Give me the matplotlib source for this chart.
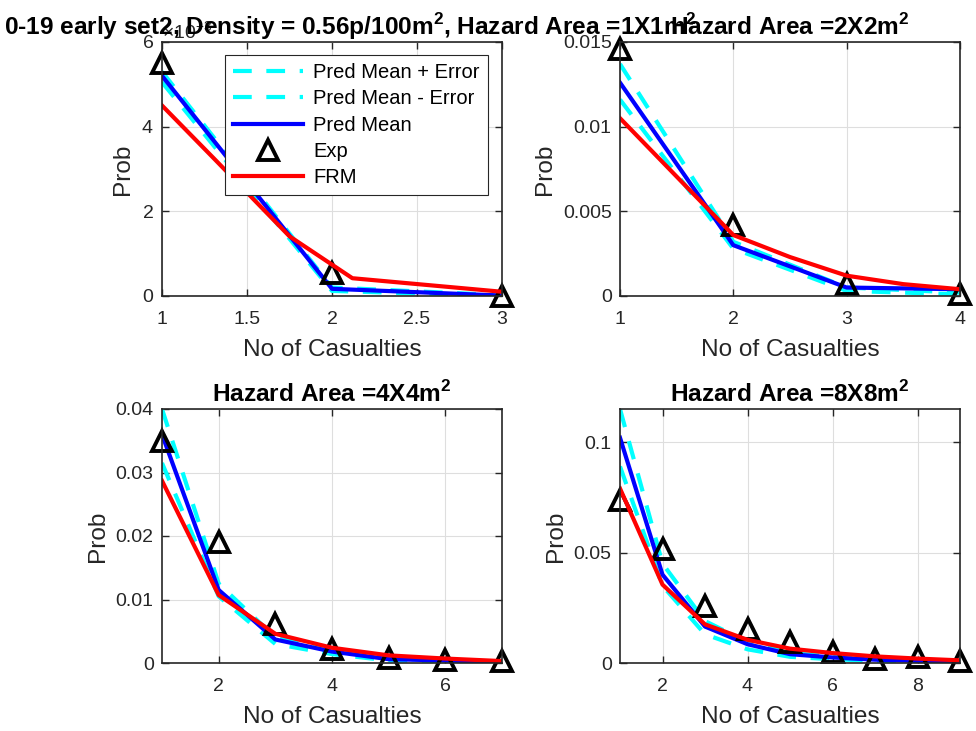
import numpy as np
import matplotlib
matplotlib.use('Agg')
import matplotlib.pyplot as plt
from matplotlib.ticker import FuncFormatter

plt.rcParams['font.family'] = ['Liberation Sans', 'DejaVu Sans']
plt.rcParams['mathtext.fontset'] = 'custom'
plt.rcParams['mathtext.rm'] = 'Liberation Sans'
plt.rcParams['mathtext.bf'] = 'Liberation Sans:bold'

# panel 1: hazard area 1x1
x1 = [1, 2, 3]
plus1 = [5.30e-3, 0.20e-3, 0.02e-3]
minus1 = [5.05e-3, 0.12e-3, 0.0]
mean1 = [5.20e-3, 0.17e-3, 0.01e-3]
exp1 = [5.50e-3, 0.54e-3, 0.0]
frm_x1 = [1, 1.31, 1.75, 2.12, 3]
frm1 = [4.50e-3, 3.23e-3, 1.41e-3, 0.42e-3, 0.10e-3]

# panel 2: hazard area 2x2
x2 = [1, 2, 3, 4]
plus2 = [0.0137, 0.0032, 0.0005, 0.0002]
minus2 = [0.0116, 0.0028, 0.0003, 0.0001]
mean2 = [0.0126, 0.0030, 0.0005, 0.0004]
exp2 = [0.0146, 0.0042, 0.0007, 0.0001]
frm_x2 = [1, 2, 2.5, 3, 3.5, 4]
frm2 = [0.0105, 0.0036, 0.0023, 0.0012, 0.0007, 0.0004]

# panel 3: hazard area 4x4
x3 = [1, 2, 3, 4, 5, 6, 7]
plus3 = [0.0400, 0.0125, 0.0040, 0.0020, 0.0007, 0.0004, 0.0002]
minus3 = [0.0315, 0.0105, 0.0030, 0.0014, 0.0004, 0.0003, 0.0001]
mean3 = [0.0360, 0.0115, 0.0037, 0.0018, 0.0006, 0.0004, 0.0002]
exp3 = [0.0350, 0.0191, 0.0062, 0.0022, 0.0008, 0.0005, 0.0003]
frm3 = [0.0287, 0.0107, 0.0046, 0.0024, 0.0012, 0.0007, 0.0003]

# panel 4: hazard area 8x8
x4 = [1, 2, 3, 4, 5, 6, 7, 8, 9]
plus4 = [0.1150, 0.0450, 0.0190, 0.0095, 0.0045, 0.0030, 0.0020, 0.0012, 0.0006]
minus4 = [0.0890, 0.0350, 0.0130, 0.0062, 0.0028, 0.0017, 0.0010, 0.0007, 0.0003]
mean4 = [0.1020, 0.0400, 0.0165, 0.0085, 0.0040, 0.0025, 0.0015, 0.0010, 0.0005]
exp4 = [0.0737, 0.0516, 0.0260, 0.0153, 0.0093, 0.0048, 0.0020, 0.0025, 0.0010]
frm4 = [0.0790, 0.0355, 0.0175, 0.0105, 0.0065, 0.0045, 0.0030, 0.0020, 0.0012]

titles = [r'0-19 early set2, Density = 0.56p/100m$^\mathbf{2}$, Hazard Area =1X1m$^\mathbf{2}$',
          r'Hazard Area =2X2m$^\mathbf{2}$',
          r'Hazard Area =4X4m$^\mathbf{2}$',
          r'Hazard Area =8X8m$^\mathbf{2}$']

panels = [
    (x1, plus1, minus1, mean1, exp1, frm_x1, frm1, (1, 3), (0, 6e-3), [1, 1.5, 2, 2.5, 3], [0, 2e-3, 4e-3, 6e-3]),
    (x2, plus2, minus2, mean2, exp2, frm_x2, frm2, (1, 4), (0, 0.015), [1, 2, 3, 4], [0, 0.005, 0.01, 0.015]),
    (x3, plus3, minus3, mean3, exp3, x3, frm3, (1, 7), (0, 0.04), [2, 4, 6], [0, 0.01, 0.02, 0.03, 0.04]),
    (x4, plus4, minus4, mean4, exp4, x4, frm4, (1, 9), (0, 0.115), [2, 4, 6, 8], [0, 0.05, 0.1]),
]

W, H = 976, 731
boxes = [(162, 42), (620, 42), (162, 409), (620, 409)]
aw, ah = 340, 254

fig = plt.figure(figsize=(W / 100, H / 100), dpi=100)
dark = '#262626'
gfmt = FuncFormatter(lambda v, pos: '%g' % v)

for i, (p, (px, py)) in enumerate(zip(panels, boxes)):
    x, plus, minus, mean, exp_, fx, frm, xl, yl, xt, yt = p
    ax = fig.add_axes([px / W, 1 - (py + ah) / H, aw / W, ah / H])
    ax.plot(x, plus, color='cyan', lw=3, ls='--', dashes=(4.5, 3.5), label='Pred Mean + Error')
    ax.plot(x, minus, color='cyan', lw=3, ls='--', dashes=(4.5, 3.5), label='Pred Mean - Error')
    ax.plot(x, mean, color='blue', lw=3, label='Pred Mean')
    ax.plot(x, exp_, ls='none', marker='^', ms=14, mfc='none', mec='black', mew=2.8,
            label='Exp', clip_on=False)
    ax.plot(fx, frm, color='red', lw=3, label='FRM')
    ax.set_xlim(*xl)
    ax.set_ylim(*yl)
    ax.set_xticks(xt)
    ax.set_yticks(yt)
    ax.xaxis.set_major_formatter(gfmt)
    ax.grid(True, color='#dedede', lw=0.8)
    ax.set_axisbelow(True)
    ax.tick_params(direction='in', top=True, right=True, length=5, width=1,
                   labelsize=14, colors=dark, labelcolor=dark)
    ax.tick_params(axis='x', pad=10.5)
    ax.tick_params(axis='y', pad=6)
    for s in ax.spines.values():
        s.set_color(dark)
        s.set_linewidth(1.2)
    ax.set_xlabel('No of Casualties', fontsize=17.6, color=dark, labelpad=8)
    ax.set_ylabel('Prob', fontsize=17.6, color=dark, labelpad=5)
    if i == 0:
        # long title gets pushed right so it stays inside the figure
        ax.set_title(titles[i], fontsize=17.6, fontweight='bold', pad=5, y=1.0,
                     loc='left', x=(4 - px) / aw)
        ax.ticklabel_format(axis='y', style='sci', scilimits=(0, 0), useMathText=True)
        ax.yaxis.get_offset_text().set_fontsize(14)
        ax.yaxis.get_offset_text().set_color(dark)
        leg = ax.legend(loc='upper right', bbox_to_anchor=((488 - px) / aw, 1 - (55 - py) / ah),
                        fontsize=14.5, frameon=True, fancybox=False, framealpha=1,
                        edgecolor=dark, handlelength=3.5, labelspacing=0.36,
                        borderpad=0.4, borderaxespad=0, handletextpad=0.5)
        leg.get_frame().set_linewidth(0.8)
    else:
        ax.set_title(titles[i], fontsize=17.6, fontweight='bold', pad=5, y=1.0)
        ax.yaxis.set_major_formatter(gfmt)

fig.savefig('out.png', dpi=100)
